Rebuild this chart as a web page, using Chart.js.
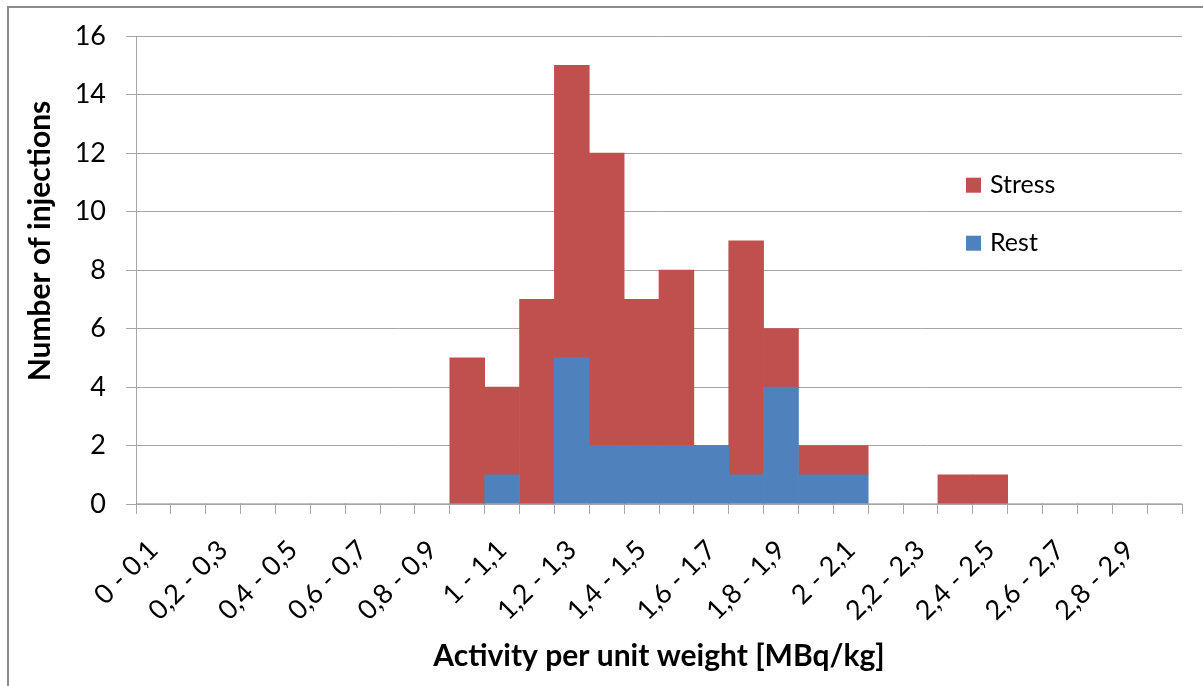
<!DOCTYPE html>
<html>
<head>
<meta charset="utf-8">
<script src="https://cdn.jsdelivr.net/npm/chart.js@4"></script>
<style>
  body { margin: 0; background: #fff; }
  #wrap { position: relative; width: 1203px; height: 686px; }
  #frame { position: absolute; left: 7px; top: 6px; right: -4px; bottom: -4px;
           border-left: 2px solid #8c8c8c; border-top: 2px solid #8c8c8c; pointer-events: none; }
</style>
</head>
<body>
<div id="wrap">
  <canvas id="chart" width="1203" height="686"></canvas>
  <div id="frame"></div>
</div>
<script>
// bins of 0.1 MBq/kg, from 0 to 3
const categories = [
  '0 - 0,1', '0,1 - 0,2', '0,2 - 0,3', '0,3 - 0,4', '0,4 - 0,5', '0,5 - 0,6',
  '0,6 - 0,7', '0,7 - 0,8', '0,8 - 0,9', '0,9 - 1', '1 - 1,1', '1,1 - 1,2',
  '1,2 - 1,3', '1,3 - 1,4', '1,4 - 1,5', '1,5 - 1,6', '1,6 - 1,7', '1,7 - 1,8',
  '1,8 - 1,9', '1,9 - 2', '2 - 2,1', '2,1 - 2,2', '2,2 - 2,3', '2,3 - 2,4',
  '2,4 - 2,5', '2,5 - 2,6', '2,6 - 2,7', '2,7 - 2,8', '2,8 - 2,9', '2,9 - 3'
];

// stacked: rest at the bottom, stress on top
const restValues = [0,0,0,0,0,0,0,0,0,0, 1,0,5,2,2,2,2,1,4,1, 1,0,0,0,0,0,0,0,0,0];
const stressValues = [0,0,0,0,0,0,0,0,0,5, 3,7,10,10,5,6,0,8,2,1, 1,0,0,1,1,0,0,0,0,0];

const yTicks = { min: 0, max: 16, step: 2 };
const yTitle = 'Number of injections';

const fontFamily = 'Lato, "Liberation Sans", sans-serif';
const gridColor = '#a6a6a6';

// legend drawn inside the plot, top series first like Excel does
const insideLegend = {
  id: 'insideLegend',
  afterDraw(chart) {
    const ctx = chart.ctx;
    const area = chart.chartArea;
    const sets = chart.data.datasets.slice().reverse();
    ctx.save();
    ctx.font = '25px ' + fontFamily;
    ctx.textBaseline = 'middle';
    sets.forEach((ds, i) => {
      const x = area.left + 830;
      const y = area.top + 149 + i * 58;
      ctx.fillStyle = ds.backgroundColor;
      ctx.fillRect(x, y - 7.5, 15, 15);
      ctx.fillStyle = '#000';
      ctx.fillText(ds.label, x + 24, y);
    });

    // y title, centred a bit higher than the plot like the original
    ctx.font = 'bold 30px ' + fontFamily;
    ctx.textAlign = 'center';
    ctx.translate(40, 241);
    ctx.rotate(-Math.PI / 2);
    ctx.fillText(yTitle, 0, 0);
    ctx.restore();
  }
};

new Chart(document.getElementById('chart'), {
  type: 'bar',
  data: {
    labels: categories,
    datasets: [
      { label: 'Rest', data: restValues, backgroundColor: '#4f81bd' },
      { label: 'Stress', data: stressValues, backgroundColor: '#c0504d' }
    ]
  },
  options: {
    responsive: false,
    animation: false,
    barPercentage: 1,
    categoryPercentage: 1,
    layout: { padding: { left: 0, top: 34, right: 21, bottom: 0 } },
    plugins: {
      legend: { display: false },
      tooltip: { enabled: false }
    },
    scales: {
      x: {
        stacked: true,
        grid: { drawOnChartArea: false, drawTicks: true, offset: true, tickLength: 10, color: gridColor },
        border: { color: gridColor },
        ticks: {
          autoSkip: false,
          minRotation: 45,
          maxRotation: 45,
          padding: 20,
          color: '#000',
          font: { family: fontFamily, size: 27 },
          callback: function (value, index) {
            return index % 2 === 0 ? this.getLabelForValue(value) : '';
          }
        },
        title: {
          display: true,
          text: 'Activity per unit weight [MBq/kg]',
          color: '#000',
          font: { family: fontFamily, size: 30, weight: 'bold' },
          padding: { top: 0, bottom: 12 }
        },
        afterFit(scale) {
          scale.height = 182;
          scale.paddingLeft = 0;
          scale.paddingRight = 0;
        }
      },
      y: {
        stacked: true,
        min: yTicks.min,
        max: yTicks.max,
        grid: { color: gridColor, tickLength: 10 },
        border: { color: gridColor },
        ticks: {
          stepSize: yTicks.step,
          padding: 20,
          color: '#000',
          font: { family: fontFamily, size: 27 }
        },
        afterFit(scale) { scale.width = 136; }
      }
    }
  },
  plugins: [insideLegend]
});
</script>
</body>
</html>
